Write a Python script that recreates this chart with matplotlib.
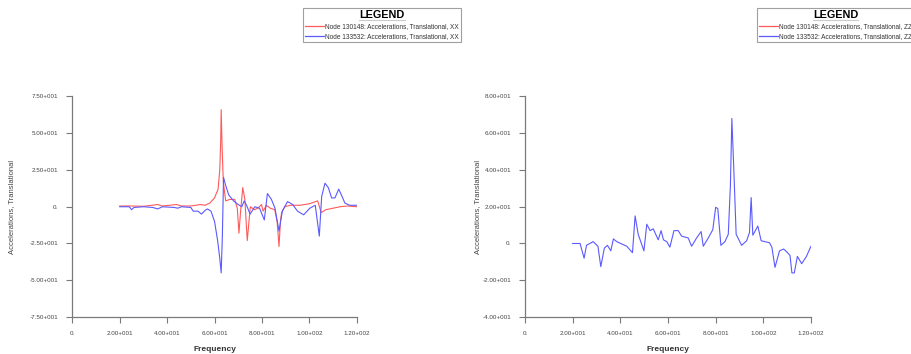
import matplotlib
matplotlib.use("Agg")
import matplotlib.pyplot as plt
from matplotlib.lines import Line2D

plt.rcParams['font.family'] = ['Liberation Sans', 'DejaVu Sans']

# left chart: XX accelerations
xx_red_f = [20, 25, 30, 36, 38, 44, 46, 50, 54, 56, 58, 60, 61.5, 62.2, 62.6, 62.8, 63.2, 63.7,
            64.7, 66.5, 68.5, 69.6, 70.3, 71, 71.9, 72.8, 73.8, 75.1, 76.8, 78.3, 79.8, 80.5,
            81.9, 83.5, 85.4, 86.4, 87.2, 87.8, 88.3, 89.6, 92, 96, 100, 103.5, 105, 107, 110,
            113, 116, 120]
xx_red_a = [0.5, 0.5, 0.3, 1.5, 0.5, 1.5, 0.5, 0.5, 1.5, 1, 2.5, 6, 12, 25, 45, 66, 40, 17,
            4, 5, 5, -1, -18, -3, 13, 5, -23, 0, -2, -1, 1.5, -3,
            1, -1, -2, -10, -27, -10, -4, 0, 1, 1, 2, 4, -4, -2, -1,
            0, 0.5, 0]
xx_blue_f = [20, 24, 25, 26, 30, 34, 36, 38, 43, 44.5, 46, 50, 51, 53, 54.5, 56, 57, 58.5, 60,
             61.3, 62.2, 62.8, 63.3, 63.8, 64.6, 66, 68, 70, 71.5, 72.5, 73.5, 75, 77, 79, 81,
             82.3, 84, 85.5, 87.2, 88.6, 90.8, 93, 95, 97.6, 100.2, 102.5, 104.2, 105.2, 106.6,
             108, 109.4, 110.8, 112.4, 113.8, 115, 117, 120]
xx_blue_a = [0, 0, -2, -0.5, 0, -0.5, -1.5, 0, -0.5, -1, 0, -0.5, -3, -3, -5, -2.5, -1.5, -3, -10,
             -23, -35, -45, -20, 20, 15, 8, 4, 1.5, 0, 4, 1, -5, 0, -1, -9,
             9, 5, -1, -16.6, -3, 3.5, 1.5, -3, -5.5, -1, 1, -20, 7, 16,
             13, 6, 6, 12, 7, 2.5, 1, 1]

# right chart: ZZ accelerations (only node 133532 visible)
zz_blue_f = [20.0, 23.1, 24.8, 25.8, 28.6, 30.6, 31.8, 33.3, 34.6, 36.0, 37.1, 38.5, 42.7, 45.1,
             46.2, 47.5, 49.9, 51.1, 52.5, 53.8, 55.9, 57.1, 58.1, 59.5, 60.8, 62.5, 64.3, 65.7,
             68.5, 69.9, 72.0, 73.9, 74.8, 76.9, 78.8, 80.0, 80.9, 82.2, 83.9, 85.3, 86.2, 86.8,
             87.6, 88.6, 90.9, 93.0, 94.2, 94.9, 95.6, 97.7, 99.1, 102.6, 103.6, 104.9, 106.8,
             108.5, 109.8, 111.2, 112.0, 113.0, 114.3, 116.1, 118.1, 120.0]
zz_blue_a = [0, 0, -8, -1, 1, -1.5, -12.6, -2.5, -1, -4, 2.5, 1, -1.5, -5,
             15, 5, -4, 10.5, 7, 8, 2, 7, 2, 1, -2, 7, 7, 4,
             3, -1.5, 3, 6.5, -1.5, 3, 7.5, 19.7, 19, -1, 1, 5, 32, 68,
             41, 5, -1, 1.5, 6, 25, 4.5, 9.5, 1.5, 0.4, -2, -13, -4,
             -3, -4.5, -6.5, -16, -16, -7, -11, -7, -1.5]

x_ticks = [0, 20, 40, 60, 80, 100, 120]
x_labels = ["0.", "2.00+001", "4.00+001", "6.00+001", "8.00+001", "1.00+002", "1.20+002"]
xx_yticks = [-75, -50, -25, 0, 25, 50, 75]
xx_ylabels = ["-7.50+001", "-5.00+001", "-2.50+001", "0.", "2.50+001", "5.00+001", "7.50+001"]
zz_yticks = [-40, -20, 0, 20, 40, 60, 80]
zz_ylabels = ["-4.00+001", "-2.00+001", "0.", "2.00+001", "4.00+001", "6.00+001", "8.00+001"]

red = "#ff5a5a"
blue = "#5a5aff"
axis_grey = "#7a7a7a"

fig = plt.figure(figsize=(9.11, 3.54), dpi=100)
ax1 = fig.add_axes([0.0794, 0.1045, 0.3122, 0.623])
ax2 = fig.add_axes([0.5763, 0.1045, 0.3139, 0.623])


def style(ax, yticks, ylabels, ylim, ylab_x):
    ax.set_xlim(0, 120)
    ax.set_ylim(*ylim)
    ax.set_xticks(x_ticks, x_labels)
    ax.set_yticks(yticks, ylabels)
    for s in ["top", "right"]:
        ax.spines[s].set_visible(False)
    for s in ["left", "bottom"]:
        ax.spines[s].set_color(axis_grey)
        ax.spines[s].set_linewidth(0.9)
    ax.tick_params(direction="out", length=4, width=0.8, color=axis_grey,
                   labelsize=4.5, labelcolor="#444444", pad=6)
    ax.set_xlabel("Frequency", fontsize=6, fontweight="bold", color="#333333")
    ax.set_ylabel("Accelerations, Translational", fontsize=5.5, color="#444444")
    ax.xaxis.set_label_coords(0.5, -0.13)
    ax.yaxis.set_label_coords(ylab_x, 0.5)


ax1.plot(xx_red_f, xx_red_a, color=red, lw=0.8)
ax1.plot(xx_blue_f, xx_blue_a, color=blue, lw=0.8)
style(ax1, xx_yticks, xx_ylabels, (-75, 75), -0.2)

ax2.plot(zz_blue_f, zz_blue_a, color=blue, lw=0.8)
style(ax2, zz_yticks, zz_ylabels, (-40, 80), -0.155)

# legends drawn at the top, like the original report layout
legs = []
for x0, comp in [(303, "XX"), (757, "ZZ")]:
    handles = [Line2D([], [], color=red, lw=0.9), Line2D([], [], color=blue, lw=0.9)]
    labels = [f"Node 130148: Accelerations, Translational, {comp}",
              f"Node 133532: Accelerations, Translational, {comp}"]
    leg = fig.legend(handles, labels, loc="upper left",
                     bbox_to_anchor=(x0 / 911, 1 - 8 / 354),
                     title="LEGEND", fontsize=4.7,
                     title_fontproperties={"weight": "bold", "size": 7.8},
                     frameon=True, fancybox=False, edgecolor="#888888",
                     handlelength=2.8, handletextpad=0.2, labelspacing=0.45,
                     borderpad=0.35, borderaxespad=0)
    leg.get_frame().set_linewidth(0.8)
    for t in leg.get_texts():
        t.set_color("#333333")
    legs.append(leg)

# underline the LEGEND titles
fig.canvas.draw()
inv = fig.transFigure.inverted()
for leg in legs:
    bb = leg.get_title().get_window_extent()
    (ux0, uy), (ux1, _) = inv.transform([(bb.x0, bb.y0 + 0.5), (bb.x1, bb.y0 + 0.5)])
    fig.add_artist(Line2D([ux0, ux1], [uy, uy], color="black", lw=0.8, transform=fig.transFigure))

fig.savefig("out.png", dpi=100)
